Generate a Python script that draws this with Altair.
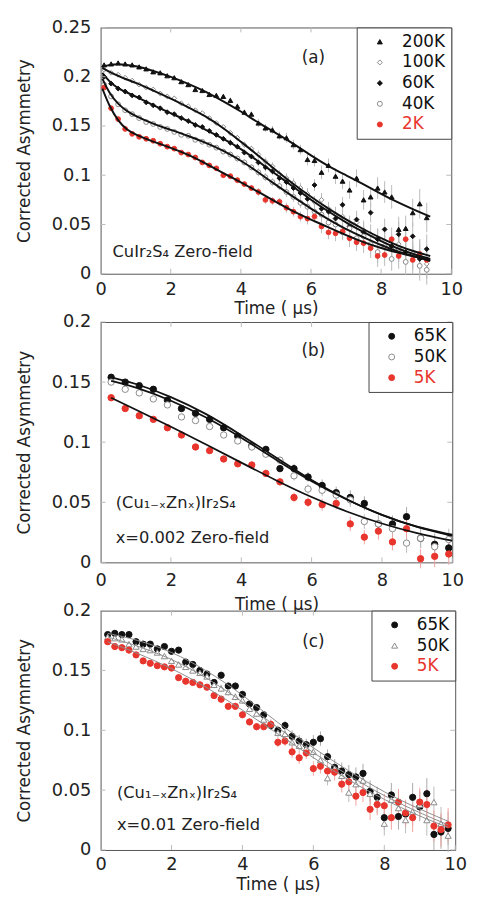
import altair as alt
import pandas as pd

FONT = "DejaVu Sans"
RED = "#e8352d"
BLACK = "#111111"
GRAY = "#8a8a8a"
TICKC = "#bbbbbb"

X_TICKS = [0, 2, 4, 6, 8, 10]
Y_TICKS_A = [0, 0.05, 0.1, 0.15, 0.2, 0.25]
Y_TICKS_BC = [0, 0.05, 0.1, 0.15, 0.2]

# ---------------- panel (a): CuIr2S4 ----------------
T_A = [0.1, 0.3, 0.5, 0.7, 0.9, 1.1, 1.3, 1.5, 1.7, 1.9, 2.1, 2.3, 2.5, 2.7, 2.9,
       3.1, 3.3, 3.5, 3.7, 3.9, 4.1, 4.3, 4.5, 4.7, 4.9, 5.1, 5.3, 5.5, 5.7, 5.9,
       6.1, 6.3, 6.5, 6.7, 6.9, 7.1, 7.3, 7.5, 7.7, 7.9, 8.1, 8.3, 8.5, 8.7, 8.9,
       9.1, 9.3]
A_200K = [0.212, 0.213, 0.214, 0.213, 0.212, 0.210, 0.208, 0.205, 0.204, 0.201,
          0.199, 0.195, 0.192, 0.187, 0.186, 0.182, 0.181, 0.180, 0.176, 0.170,
          0.164, 0.162, 0.153, 0.148, 0.146, 0.140, 0.138, 0.131, 0.126, 0.116,
          0.115, 0.103, 0.110, 0.099, 0.094, 0.085, 0.097, 0.075, 0.078, 0.087,
          0.083, 0.078, 0.045, 0.046, 0.062, 0.071, 0.057]
A_100K = [0.207, 0.204, 0.202, 0.199, 0.196, 0.192, 0.189, 0.187, 0.183, 0.180,
          0.178, 0.173, 0.170, 0.166, 0.163, 0.158, 0.153, 0.149, 0.143, 0.138,
          0.131, 0.127, 0.121, 0.114, 0.109, 0.101, 0.097, 0.092, 0.087, 0.081,
          0.073, 0.075, 0.066, 0.060, 0.058, 0.050, 0.052, 0.044, 0.040, 0.035,
          0.033, 0.025, 0.030, 0.022, 0.018, 0.020, 0.010]
A_60K = [0.200, 0.193, 0.188, 0.185, 0.181, 0.179, 0.174, 0.171, 0.168, 0.164,
         0.162, 0.158, 0.155, 0.151, 0.149, 0.145, 0.141, 0.137, 0.133, 0.129,
         0.123, 0.119, 0.113, 0.108, 0.104, 0.097, 0.093, 0.087, 0.082, 0.076,
         0.090, 0.066, 0.063, 0.056, 0.070, 0.048, 0.055, 0.042, 0.062, 0.035,
         0.045, 0.028, 0.040, 0.022, 0.038, 0.015, 0.025]
A_40K = [0.192, 0.180, 0.172, 0.166, 0.162, 0.158, 0.154, 0.152, 0.149, 0.147,
         0.144, 0.141, 0.140, 0.136, 0.134, 0.131, 0.128, 0.124, 0.121, 0.117,
         0.113, 0.108, 0.103, 0.098, 0.093, 0.089, 0.083, 0.078, 0.072, 0.068,
         0.063, 0.060, 0.052, 0.050, 0.042, 0.046, 0.036, 0.038, 0.030, 0.022,
         0.028, 0.015, 0.025, 0.012, 0.020, 0.008, 0.004]
A_2K = [0.189, 0.168, 0.157, 0.147, 0.142, 0.139, 0.137, 0.135, 0.132, 0.129,
        0.127, 0.123, 0.121, 0.118, 0.113, 0.110, 0.107, 0.100, 0.099, 0.095,
        0.091, 0.087, 0.083, 0.075, 0.074, 0.073, 0.067, 0.063, 0.058, 0.056,
        0.058, 0.048, 0.042, 0.041, 0.043, 0.036, 0.032, 0.031, 0.026, 0.018,
        0.019, 0.035, 0.018, 0.035, 0.014, 0.020, 0.014]
ERR_A = [0.001, 0.001, 0.001, 0.001, 0.001, 0.001, 0.001, 0.001, 0.001, 0.001,
         0.001, 0.001, 0.001, 0.001, 0.001, 0.002, 0.002, 0.002, 0.003, 0.003,
         0.003, 0.003, 0.004, 0.004, 0.004, 0.004, 0.005, 0.005, 0.005, 0.006,
         0.006, 0.007, 0.007, 0.008, 0.008, 0.009, 0.009, 0.010, 0.010, 0.011,
         0.011, 0.012, 0.013, 0.013, 0.014, 0.015, 0.015]
FIT_T_A = [0.05, 0.25, 0.5, 0.75, 1.0, 1.5, 2.0, 2.5, 3.0, 3.5, 4.0, 4.5, 5.0,
           5.5, 6.0, 6.5, 7.0, 7.5, 8.0, 8.5, 9.0, 9.4]
FIT_A_200K = [0.210, 0.212, 0.213, 0.212, 0.211, 0.206, 0.200, 0.193, 0.185, 0.175, 0.165,
              0.153, 0.143, 0.132, 0.120, 0.109, 0.100, 0.091, 0.081, 0.072, 0.064, 0.058]
FIT_A_100K = [0.209, 0.205, 0.201, 0.197, 0.194, 0.186, 0.178, 0.169, 0.160, 0.148, 0.134,
              0.120, 0.105, 0.091, 0.078, 0.066, 0.055, 0.045, 0.036, 0.028, 0.022, 0.018]
FIT_A_60K = [0.204, 0.195, 0.188, 0.184, 0.180, 0.171, 0.163, 0.155, 0.146, 0.137, 0.127,
             0.114, 0.101, 0.088, 0.075, 0.063, 0.052, 0.042, 0.033, 0.025, 0.019, 0.015]
FIT_A_40K = [0.198, 0.183, 0.172, 0.165, 0.160, 0.152, 0.146, 0.140, 0.133, 0.125, 0.115,
             0.103, 0.090, 0.078, 0.066, 0.055, 0.045, 0.037, 0.029, 0.022, 0.017, 0.013]
FIT_A_2K = [0.188, 0.170, 0.155, 0.146, 0.141, 0.134, 0.128, 0.121, 0.112, 0.102, 0.093,
            0.083, 0.073, 0.063, 0.055, 0.047, 0.039, 0.032, 0.026, 0.021, 0.017, 0.014]

# ---------------- panel (b): x = 0.002 ----------------
T_B = [0.3, 0.7, 1.1, 1.5, 1.9, 2.3, 2.7, 3.1, 3.5, 3.9, 4.3, 4.7, 5.1, 5.5, 5.9,
       6.3, 6.7, 7.1, 7.5, 7.9, 8.3, 8.7, 9.1, 9.5, 9.9]
B_65K = [0.154, 0.150, 0.147, 0.144, 0.135, 0.128, 0.124, 0.119, 0.112, 0.105,
         0.097, 0.094, 0.078, 0.078, 0.071, 0.064, 0.058, 0.054, 0.049, 0.032,
         0.032, 0.038, 0.020, 0.015, 0.012]
B_50K = [0.150, 0.144, 0.141, 0.136, 0.131, 0.121, 0.118, 0.113, 0.106, 0.101,
         0.096, 0.090, 0.085, 0.072, 0.061, 0.060, 0.056, 0.052, 0.034, 0.032,
         0.028, 0.016, 0.020, 0.013, 0.019]
B_5K = [0.137, 0.128, 0.122, 0.119, 0.112, 0.106, 0.096, 0.093, 0.086, 0.082,
        0.081, 0.074, 0.067, 0.054, 0.050, 0.048, 0.049, 0.032, 0.021, 0.026,
        0.017, 0.028, 0.003, 0.005, 0.007]
ERR_B = [0.001, 0.001, 0.001, 0.001, 0.001, 0.002, 0.002, 0.002, 0.002, 0.002,
         0.003, 0.003, 0.003, 0.004, 0.004, 0.005, 0.005, 0.006, 0.006, 0.007,
         0.007, 0.008, 0.008, 0.009, 0.009]
FIT_T_B = [0.3, 1, 2, 3, 4, 5, 6, 7, 8, 9, 10]
FIT_B_65K = [0.154, 0.149, 0.138, 0.124, 0.106, 0.087, 0.068, 0.052, 0.039, 0.029, 0.022]
FIT_B_50K = [0.151, 0.146, 0.135, 0.121, 0.104, 0.085, 0.067, 0.052, 0.039, 0.029, 0.023]
FIT_B_5K = [0.137, 0.127, 0.113, 0.098, 0.083, 0.068, 0.054, 0.042, 0.032, 0.024, 0.018]

# ---------------- panel (c): x = 0.01 ----------------
T_C = [0.2, 0.4, 0.6, 0.8, 1.0, 1.2, 1.4, 1.6, 1.8, 2.0, 2.2, 2.4, 2.6, 2.8, 3.0,
       3.2, 3.4, 3.6, 3.8, 4.0, 4.2, 4.4, 4.6, 4.8, 5.0, 5.2, 5.4, 5.6, 5.8, 6.0,
       6.2, 6.4, 6.6, 6.8, 7.0, 7.2, 7.4, 7.6, 7.8, 8.0, 8.2, 8.4, 8.6, 8.8, 9.0,
       9.2, 9.4, 9.6, 9.8]
C_65K = [0.180, 0.181, 0.180, 0.180, 0.174, 0.172, 0.172, 0.168, 0.170, 0.166,
         0.167, 0.157, 0.155, 0.150, 0.147, 0.140, 0.146, 0.137, 0.137, 0.130,
         0.122, 0.119, 0.113, 0.104, 0.100, 0.104, 0.095, 0.091, 0.088, 0.090,
         0.093, 0.078, 0.069, 0.066, 0.063, 0.061, 0.064, 0.049, 0.044, 0.027,
         0.046, 0.028, 0.030, 0.044, 0.036, 0.047, 0.013, 0.015, 0.018]
C_50K = [0.178, 0.177, 0.176, 0.172, 0.170, 0.168, 0.167, 0.165, 0.162, 0.158,
         0.155, 0.153, 0.150, 0.148, 0.145, 0.138, 0.135, 0.132, 0.128, 0.125,
         0.118, 0.114, 0.109, 0.105, 0.098, 0.097, 0.090, 0.087, 0.085, 0.082,
         0.075, 0.060, 0.068, 0.062, 0.048, 0.055, 0.058, 0.047, 0.040, 0.022,
         0.042, 0.035, 0.025, 0.032, 0.038, 0.025, 0.040, 0.022, 0.012]
C_5K = [0.174, 0.170, 0.169, 0.167, 0.163, 0.158, 0.156, 0.154, 0.153, 0.152,
        0.144, 0.141, 0.140, 0.138, 0.136, 0.129, 0.126, 0.120, 0.120, 0.113,
        0.107, 0.103, 0.103, 0.105, 0.090, 0.091, 0.082, 0.077, 0.081, 0.068,
        0.070, 0.066, 0.065, 0.055, 0.057, 0.045, 0.048, 0.034, 0.038, 0.037,
        0.027, 0.040, 0.031, 0.027, 0.040, 0.038, 0.020, 0.017, 0.021]
ERR_C = [0.001, 0.001, 0.001, 0.001, 0.001, 0.001, 0.001, 0.001, 0.001, 0.001,
         0.002, 0.002, 0.002, 0.002, 0.002, 0.002, 0.003, 0.003, 0.003, 0.003,
         0.003, 0.003, 0.003, 0.004, 0.004, 0.004, 0.005, 0.005, 0.005, 0.006,
         0.006, 0.006, 0.007, 0.007, 0.008, 0.008, 0.008, 0.009, 0.009, 0.010,
         0.010, 0.011, 0.011, 0.012, 0.012, 0.013, 0.013, 0.014, 0.014]
FIT_T_C = [0.2, 1, 2, 3, 4, 5, 6, 7, 8, 9, 9.8]
FIT_C_65K = [0.181, 0.176, 0.166, 0.150, 0.130, 0.106, 0.085, 0.066, 0.048, 0.034, 0.024]
FIT_C_50K = [0.178, 0.171, 0.160, 0.144, 0.124, 0.102, 0.081, 0.062, 0.045, 0.031, 0.021]
FIT_C_5K = [0.174, 0.165, 0.152, 0.136, 0.117, 0.097, 0.077, 0.058, 0.042, 0.028, 0.019]

# annotations
TAGS = ["(a)", "(b)", "(c)"]
TAG_X = [6.07, 6.05, 6.0]
TAG_Y = [0.219, 0.1755, 0.174]
ANN_A = ["CuIr\u2082S\u2084  Zero-field"]
ANN_A_X = [0.34]
ANN_A_Y = [0.0168]
ANN_B = ["(Cu\u2081\u208b\u2093Zn\u2093)Ir\u2082S\u2084", "x=0.002 Zero-field"]
ANN_B_X = [0.43, 0.43]
ANN_B_Y = [0.045, 0.0165]
ANN_C = ["(Cu\u2081\u208b\u2093Zn\u2093)Ir\u2082S\u2084", "x=0.01 Zero-field"]
ANN_C_X = [0.46, 0.46]
ANN_C_Y = [0.0438, 0.0163]

LABEL_COLOR = {"expr": "(datum.label == '2K' || datum.label == '5K') ? '%s' : '%s'" % (RED, BLACK)}


def build_panel(times, names, values, shapes, fills, strokes, ecols, errs,
                fit_t, fits, line_color, line_width, y_domain, y_ticks, w, h,
                tag_i, ann, ann_x, ann_y, point_size, sym_size, xlp, xtp):
    rows = []
    for name, vals, ec in zip(names, values, ecols):
        for t, v, e in zip(times, vals, errs):
            rows.append({"t": t, "v": v, "lo": v - e, "hi": v + e,
                         "series": name, "ecol": ec})
    pts = pd.DataFrame(rows)
    frows = []
    for name, fv in zip(names, fits):
        for t, v in zip(fit_t, fv):
            frows.append({"t": t, "v": v, "series": name})
    fdf = pd.DataFrame(frows)

    xs = alt.Scale(domain=[0, 10], nice=False, zero=False)
    ys = alt.Scale(domain=y_domain, nice=False, zero=False)
    xaxis = alt.Axis(values=X_TICKS, format="d", title="Time ( \u03bcs)", grid=False,
                     domain=False, ticks=False, tickSize=0, labelPadding=xlp,
                     titlePadding=xtp, labelFontSize=18, titleFontSize=17,
                     labelFlush=False)
    yaxis = alt.Axis(values=y_ticks, format="~g", title="Corrected Asymmetry",
                     grid=False, domain=False, ticks=False, tickSize=0,
                     labelPadding=10, titlePadding=18, labelFontSize=18,
                     titleFontSize=17, labelFlush=False)
    X = alt.X("t:Q", scale=xs, axis=xaxis)
    Y = alt.Y("v:Q", scale=ys, axis=yaxis)

    leg = alt.Legend(title=None, orient="top-right", offset=0, strokeColor="#444",
                     fillColor="white", padding=6, symbolOffset=9, labelOffset=14,
                     labelFontSize=17, labelFont=FONT, rowPadding=3,
                     symbolSize=sym_size, symbolStrokeWidth=1, labelColor=LABEL_COLOR)

    err = alt.Chart(pts).mark_rule(strokeWidth=1).encode(
        x=X, y=alt.Y("lo:Q", scale=ys, axis=yaxis), y2=alt.Y2("hi:Q"),
        color=alt.Color("ecol:N", scale=None))

    points = alt.Chart(pts).mark_point(size=point_size, opacity=1, strokeWidth=1).encode(
        x=X, y=Y,
        shape=alt.Shape("series:N", scale=alt.Scale(domain=names, range=shapes), legend=leg),
        fill=alt.Fill("series:N", scale=alt.Scale(domain=names, range=fills), legend=leg),
        stroke=alt.Stroke("series:N", scale=alt.Scale(domain=names, range=strokes), legend=leg),
    )
    lines = alt.Chart(fdf).mark_line(color=line_color, strokeWidth=line_width,
                                     interpolate="basis").encode(
        x=X, y=Y, detail="series:N")

    xt = pd.DataFrame({"t": X_TICKS})
    yt = pd.DataFrame({"v": y_ticks})
    tick_b = alt.Chart(xt).mark_rule(color=TICKC).encode(x=X, y=alt.value(h), y2=alt.value(h - 5))
    tick_t = alt.Chart(xt).mark_rule(color=TICKC).encode(x=X, y=alt.value(0), y2=alt.value(5))
    tick_l = alt.Chart(yt).mark_rule(color=TICKC).encode(y=Y, x=alt.value(0), x2=alt.value(5))
    tick_r = alt.Chart(yt).mark_rule(color=TICKC).encode(y=Y, x=alt.value(w - 5), x2=alt.value(w))

    tdf = pd.DataFrame({"t": [TAG_X[tag_i]], "v": [TAG_Y[tag_i]], "label": [TAGS[tag_i]]})
    tag = alt.Chart(tdf).mark_text(align="center", baseline="middle", fontSize=17,
                                   font=FONT, color="#222").encode(x=X, y=Y, text="label:N")
    adf = pd.DataFrame({"t": ann_x, "v": ann_y, "label": ann})
    annt = alt.Chart(adf).mark_text(align="left", baseline="alphabetic", fontSize=16.5,
                                    font=FONT, color="#222").encode(x=X, y=Y, text="label:N")

    return alt.layer(err, points, lines, tick_b, tick_t, tick_l, tick_r, tag, annt).properties(
        width=w, height=h)


pa = build_panel(
    T_A, ["200K", "100K", "60K", "40K", "2K"],
    [A_200K, A_100K, A_60K, A_40K, A_2K],
    ["triangle-up", "diamond", "diamond", "circle", "circle"],
    [BLACK, "white", BLACK, "white", RED],
    [BLACK, GRAY, BLACK, GRAY, RED],
    ["#bbbbbb"] * 5, ERR_A, FIT_T_A,
    [FIT_A_200K, FIT_A_100K, FIT_A_60K, FIT_A_40K, FIT_A_2K],
    BLACK, 2, [0, 0.25], Y_TICKS_A, 356, 250, 0, ANN_A, ANN_A_X, ANN_A_Y, 24, 26, 7, 2)

pb = build_panel(
    T_B, ["65K", "50K", "5K"],
    [B_65K, B_50K, B_5K],
    ["circle", "circle", "circle"],
    [BLACK, "white", RED],
    [BLACK, GRAY, RED],
    ["#aaaaaa", "#bbbbbb", "#f2a3a0"], ERR_B, FIT_T_B,
    [FIT_B_65K, FIT_B_50K, FIT_B_5K],
    BLACK, 1.8, [0, 0.2], Y_TICKS_BC, 357, 244, 1, ANN_B, ANN_B_X, ANN_B_Y, 42, 36, 10, 7)

pc = build_panel(
    T_C, ["65K", "50K", "5K"],
    [C_65K, C_50K, C_5K],
    ["circle", "triangle-up", "circle"],
    [BLACK, "white", RED],
    [BLACK, GRAY, RED],
    ["#aaaaaa", "#bbbbbb", "#f2a3a0"], ERR_C, FIT_T_C,
    [FIT_C_65K, FIT_C_50K, FIT_C_5K],
    "#8c8c8c", 1, [0, 0.2], Y_TICKS_BC, 360, 243, 2, ANN_C, ANN_C_X, ANN_C_Y, 40, 36, 6, 3)

RES = dict(x="independent", y="independent", shape="independent",
           fill="independent", stroke="independent", color="independent")
LRES = dict(shape="independent", fill="independent", stroke="independent")

chart = alt.vconcat(pa, pb, pc, spacing=49, bounds="flush").resolve_scale(**RES).resolve_legend(**LRES)

chart = chart.properties(
    padding={"left": 7, "top": 3, "right": 2, "bottom": 0}
).configure(font=FONT).configure_view(
    stroke="#555555", strokeWidth=1
).configure_axis(
    labelFont=FONT, titleFont=FONT, labelColor="#222", titleColor="#222",
    titleFontWeight="normal"
)

chart.save("out.html", embed_options={"renderer": "svg", "actions": False})
